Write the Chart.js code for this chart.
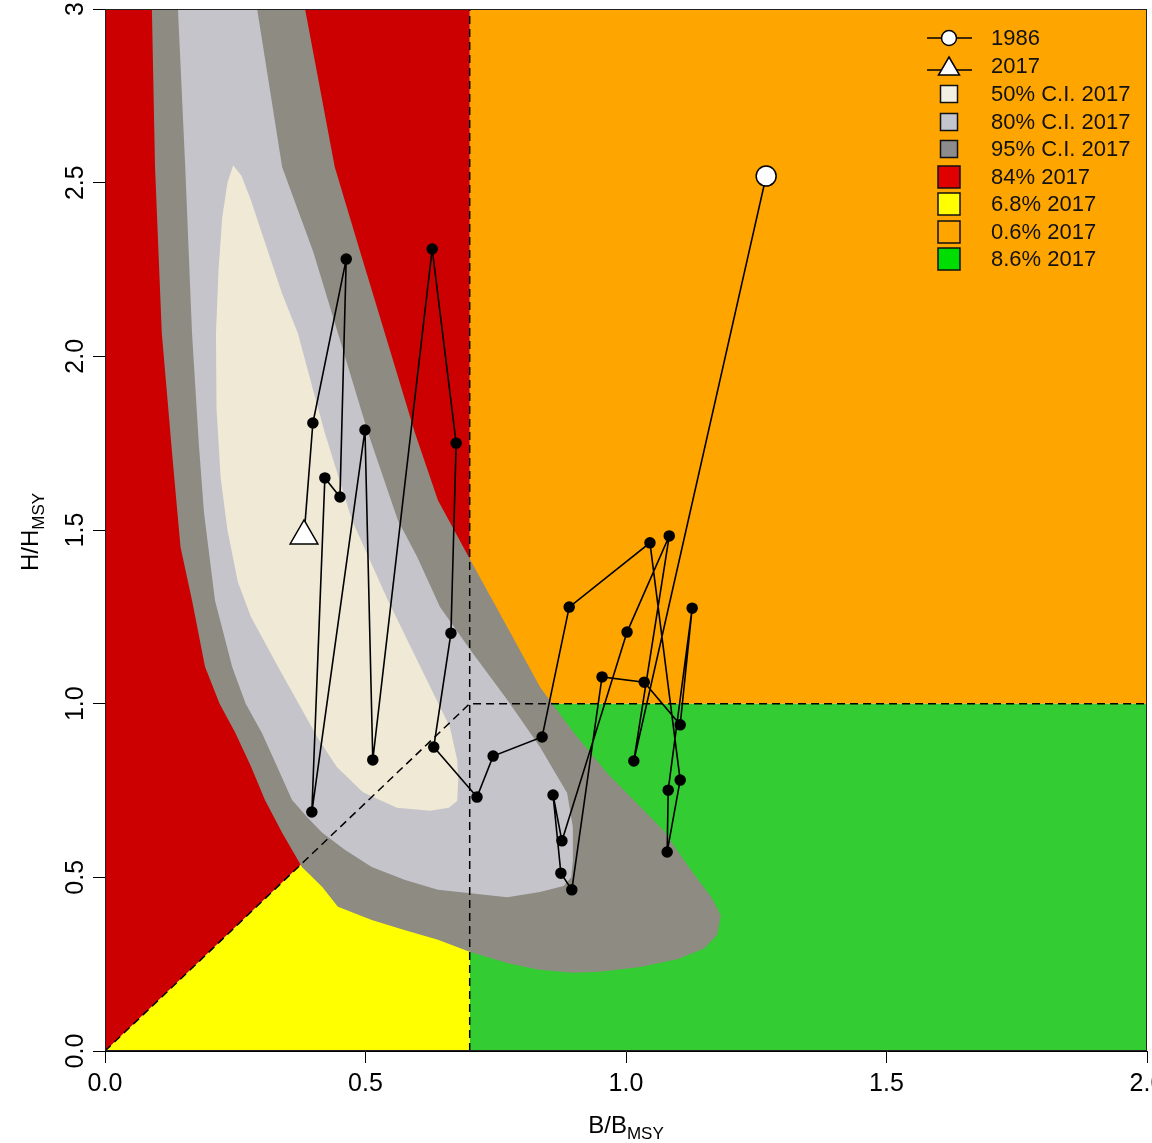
<!DOCTYPE html>
<html><head><meta charset="utf-8">
<script src="https://cdn.jsdelivr.net/npm/chart.js@4/dist/chart.umd.min.js"></script>
<style>html,body{margin:0;padding:0;background:#fff;}canvas{display:block;}</style>
</head><body>
<canvas id="c" width="1152" height="1143"></canvas>
<script>
// ---- data ----
const years = [1986,1987,1988,1989,1990,1991,1992,1993,1994,1995,1996,1997,1998,1999,2000,2001,
               2002,2003,2004,2005,2006,2007,2008,2009,2010,2011,2012,2013,2014,2015,2016,2017];
const bRatio = [1.269,1.015,1.083,1.002,0.877,0.860,0.875,0.896,0.954,1.035,1.104,1.127,1.081,1.079,1.104,1.046,
                0.891,0.839,0.745,0.714,0.631,0.664,0.674,0.628,0.514,0.499,0.397,0.422,0.451,0.463,0.399,0.382];
const hRatio = [2.519,0.835,1.483,1.206,0.605,0.737,0.512,0.464,1.077,1.062,0.939,1.275,0.751,0.573,0.780,1.463,
                1.278,0.904,0.849,0.731,0.875,1.203,1.750,2.309,0.838,1.788,0.688,1.650,1.595,2.280,1.808,1.483];

const xTickValues = [0,0.5,1,1.5,2];
const xTickLabels = ['0.0','0.5','1.0','1.5','2.0'];
const yTickValues = [0,0.5,1,1.5,2,2.5,3];
const yTickLabels = ['0.0','0.5','1.0','1.5','2.0','2.5','3'];

const bLimit = 0.7;   // B/BMSY reference
const hLimit = 1.0;   // H/HMSY reference

// Confidence-region outlines (B/BMSY, H/HMSY)
const ci95B = [0.090,0.096,0.109,0.130,0.145,0.167,0.192,0.220,0.250,0.280,0.307,0.340,0.378,0.417,0.447,0.512,0.576,0.639,0.701,0.772,0.830,0.898,0.950,1.027,1.100,1.150,1.175,1.182,1.165,1.129,1.071,1.000,0.964,0.898,0.860,0.835,0.772,0.701,0.639,0.595,0.537,0.490,0.441,0.384];
const ci95H = [3.000,2.545,2.067,1.700,1.450,1.298,1.106,1.000,0.916,0.820,0.723,0.628,0.530,0.472,0.415,0.377,0.348,0.320,0.285,0.253,0.235,0.225,0.228,0.242,0.265,0.295,0.335,0.390,0.440,0.512,0.636,0.745,0.800,0.920,0.996,1.048,1.221,1.414,1.586,1.779,2.067,2.300,2.545,3.000];
const ci80B = [0.140,0.154,0.167,0.180,0.190,0.211,0.244,0.270,0.301,0.330,0.359,0.390,0.417,0.461,0.512,0.576,0.639,0.697,0.772,0.835,0.880,0.895,0.898,0.898,0.887,0.835,0.772,0.701,0.643,0.600,0.562,0.505,0.447,0.400,0.340,0.292];
const ci80H = [3.000,2.545,2.067,1.750,1.550,1.298,1.106,1.000,0.916,0.820,0.723,0.670,0.628,0.579,0.530,0.492,0.464,0.455,0.443,0.458,0.475,0.500,0.550,0.645,0.743,0.875,1.011,1.155,1.278,1.420,1.529,1.779,2.067,2.300,2.545,3.000];
const ci50B = [0.246,0.262,0.280,0.301,0.340,0.370,0.400,0.422,0.474,0.543,0.599,0.630,0.662,0.676,0.678,0.676,0.660,0.624,0.560,0.495,0.445,0.409,0.332,0.280,0.255,0.235,0.222,0.214,0.213,0.218,0.225,0.235];
const ci50H = [2.550,2.520,2.450,2.355,2.180,2.067,1.900,1.779,1.529,1.298,1.126,1.031,0.933,0.838,0.780,0.720,0.700,0.692,0.700,0.745,0.818,0.900,1.106,1.250,1.350,1.500,1.650,1.850,2.067,2.250,2.400,2.500];

const legendLabels = ['1986','2017','50% C.I. 2017','80% C.I. 2017','95% C.I. 2017','84% 2017','6.8% 2017','0.6% 2017','8.6% 2017'];

// ---- colours ----
const cRed = '#cc0000', cYellow = '#ffff00', cOrange = '#ffa500', cGreen = '#33cc33';
const c95 = '#8e8b82', c80 = '#c4c4ca', c50 = '#efe9d5';

const pts = (xs, ys) => xs.map((x, i) => ({x: x, y: ys[i]}));

function poly(data, color, order) {
  return {type: 'line', data: data, showLine: true, fill: 'shape', backgroundColor: color,
          borderColor: color, borderWidth: 0, pointRadius: 0, tension: 0, order: order};
}

const datasets = [
  { // trajectory
    type: 'line', data: pts(bRatio, hRatio), showLine: true, fill: false, tension: 0,
    borderColor: '#000', borderWidth: 1.6,
    pointStyle: years.map((y, i) => i === years.length - 1 ? 'triangle' : 'circle'),
    pointRadius: years.map((y, i) => i === 0 ? 10 : (i === years.length - 1 ? 16 : 5)),
    pointBackgroundColor: years.map((y, i) => (i === 0 || i === years.length - 1) ? '#fff' : '#000'),
    pointBorderColor: '#000', pointBorderWidth: 1.5, order: 0
  },
  { // reference dashed lines
    type: 'line', data: [{x: 0, y: 0}, {x: bLimit, y: hLimit}, {x: 2, y: hLimit}], showLine: true, fill: false,
    borderColor: '#000', borderWidth: 1.5, borderDash: [8, 5], pointRadius: 0, tension: 0, order: 1
  },
  {
    type: 'line', data: [{x: bLimit, y: 0}, {x: bLimit, y: 3}], showLine: true, fill: false,
    borderColor: '#000', borderWidth: 1.5, borderDash: [8, 5], pointRadius: 0, tension: 0, order: 1
  },
  poly(pts(ci50B, ci50H), c50, 2),
  poly(pts(ci80B, ci80H), c80, 3),
  poly(pts(ci95B, ci95H), c95, 4),
  poly([{x:0,y:0},{x:bLimit,y:hLimit},{x:bLimit,y:3},{x:0,y:3}], cRed, 5),
  poly([{x:0,y:0},{x:bLimit,y:0},{x:bLimit,y:hLimit}], cYellow, 5),
  poly([{x:bLimit,y:hLimit},{x:2,y:hLimit},{x:2,y:3},{x:bLimit,y:3}], cOrange, 5),
  poly([{x:bLimit,y:0},{x:2,y:0},{x:2,y:hLimit},{x:bLimit,y:hLimit}], cGreen, 5)
];

const tickFont = "'Liberation Sans',Arial,Helvetica,sans-serif";
const textFont = "'Liberation Sans',Arial,Helvetica,sans-serif";

const decor = {
  id: 'decor',
  afterDraw(chart) {
    const ctx = chart.ctx, a = chart.chartArea, ys = chart.scales.y;
    ctx.save();
    // frame
    ctx.strokeStyle = '#222'; ctx.lineWidth = 1;
    ctx.strokeRect(a.left + 0.5, a.top + 0.5, a.right - a.left - 1, a.bottom - a.top - 1);
    // y tick labels (rotated)
    ctx.fillStyle = '#000';
    ctx.font = "25px " + tickFont;
    ctx.textAlign = 'center'; ctx.textBaseline = 'middle';
    yTickValues.forEach((v, i) => {
      const py = ys.getPixelForValue(v);
      ctx.save(); ctx.translate(76, py); ctx.rotate(-Math.PI / 2);
      ctx.fillText(yTickLabels[i], 0, 0); ctx.restore();
    });
    // axis titles
    ctx.textAlign = 'left'; ctx.textBaseline = 'alphabetic';
    ctx.font = "24px " + tickFont;
    let w1 = ctx.measureText('B/B').width;
    ctx.font = "17px " + tickFont;
    let w2 = ctx.measureText('MSY').width;
    let x0 = 626 - (w1 + w2) / 2;
    ctx.font = "24px " + tickFont; ctx.fillText('B/B', x0, 1133);
    ctx.font = "17px " + tickFont; ctx.fillText('MSY', x0 + w1, 1139);
    ctx.save(); ctx.translate(38, 532); ctx.rotate(-Math.PI / 2);
    ctx.font = "24px " + tickFont; w1 = ctx.measureText('H/H').width;
    ctx.font = "17px " + tickFont; w2 = ctx.measureText('MSY').width;
    x0 = -(w1 + w2) / 2;
    ctx.font = "24px " + tickFont; ctx.fillText('H/H', x0, 0);
    ctx.font = "17px " + tickFont; ctx.fillText('MSY', x0 + w1, 6);
    ctx.restore();

    // legend
    const rowY = [38, 66, 94, 122, 149, 177, 204, 232, 259];
    const sx = 949;
    ctx.font = "22px " + textFont; ctx.textBaseline = 'middle'; ctx.textAlign = 'left';
    ctx.lineWidth = 1.5; ctx.strokeStyle = '#000';
    // 1986
    ctx.beginPath(); ctx.moveTo(927, rowY[0]); ctx.lineTo(972, rowY[0]); ctx.stroke();
    ctx.beginPath(); ctx.arc(sx, rowY[0], 7.5, 0, Math.PI * 2); ctx.fillStyle = '#fff'; ctx.fill(); ctx.stroke();
    // 2017
    ctx.beginPath(); ctx.moveTo(927, rowY[1] + 4); ctx.lineTo(972, rowY[1] + 4); ctx.stroke();
    ctx.beginPath(); ctx.moveTo(sx, rowY[1] - 9); ctx.lineTo(sx + 10.5, rowY[1] + 9); ctx.lineTo(sx - 10.5, rowY[1] + 9); ctx.closePath();
    ctx.fillStyle = '#fff'; ctx.fill(); ctx.stroke();
    const boxes = [['#f2efe4', 17], ['#c3c6cc', 17], ['#8c8c8c', 17], ['#e00000', 22], ['#ffff00', 22], [cOrange, 22], ['#00dd00', 22]];
    boxes.forEach((b, i) => {
      const y = rowY[i + 2], s = b[1];
      ctx.fillStyle = b[0]; ctx.fillRect(sx - s / 2, y - s / 2, s, s);
      ctx.strokeStyle = '#111'; ctx.lineWidth = 1.5; ctx.strokeRect(sx - s / 2, y - s / 2, s, s);
    });
    ctx.fillStyle = '#111';
    legendLabels.forEach((t, i) => ctx.fillText(t, 991, rowY[i] + 1));
    ctx.restore();
  }
};

new Chart(document.getElementById('c'), {
  type: 'scatter',
  data: {datasets: datasets},
  options: {
    responsive: false, animation: false, devicePixelRatio: 1,
    layout: {autoPadding: false, padding: {top: 9, right: 5, left: 0, bottom: 0}},
    plugins: {legend: {display: false}, tooltip: {enabled: false}},
    scales: {
      x: {
        type: 'linear', min: 0, max: 2,
        afterBuildTicks: s => { s.ticks = xTickValues.map(v => ({value: v})); },
        afterFit: s => { s.height = 92; s.paddingLeft = 0; s.paddingRight = 0; },
        ticks: {callback: (v, i) => xTickLabels[i], color: '#000', padding: 6, maxRotation: 0,
                font: {family: tickFont, size: 25}},
        grid: {drawOnChartArea: false, drawTicks: true, tickLength: 12, color: '#000', lineWidth: 1},
        border: {display: true, color: '#000', width: 1}
      },
      y: {
        type: 'linear', min: 0, max: 3,
        afterBuildTicks: s => { s.ticks = yTickValues.map(v => ({value: v})); },
        afterFit: s => { s.width = 105; s.paddingTop = 0; s.paddingBottom = 0; },
        ticks: {display: false},
        grid: {drawOnChartArea: false, drawTicks: true, tickLength: 12, color: '#000', lineWidth: 1},
        border: {display: true, color: '#000', width: 1}
      }
    }
  },
  plugins: [decor]
});
</script>
</body></html>
